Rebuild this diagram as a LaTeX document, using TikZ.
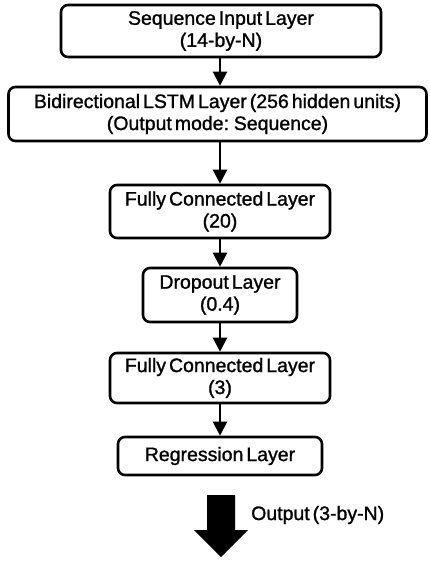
\documentclass[tikz,border=0pt]{standalone}
\usepackage{fontspec}
\setmainfont{Liberation Sans}[WordSpace=0.55,FakeBold=1.2]
\usepackage{tikz}
\usetikzlibrary{arrows.meta,positioning,calc}

\begin{document}
\begin{tikzpicture}[x=1pt,y=-1pt,
    layer/.style={draw, line width=2.6pt, rounded corners=7pt, align=center, inner sep=1pt,
        font=\fontsize{19.5}{22}\selectfont},
    flow/.style={line width=2.2pt, -{Triangle[width=14pt,length=14pt]}}]
    \useasboundingbox (0,0) rectangle (429,561);
    % layers of the network
    \node[layer, minimum width=320pt, minimum height=52pt] (input) at (221,31) {Sequence Input Layer\\(14-by-N)};
    \node[layer, minimum width=418pt, minimum height=54pt] (lstm) at (217.5,114) {Bidirectional LSTM Layer (256 hidden units)\\(Output mode: Sequence)};
    \node[layer, minimum width=220pt, minimum height=53pt] (fc1) at (220,211.5) {Fully Connected Layer\\(20)};
    \node[layer, minimum width=154pt, minimum height=54pt] (drop) at (220,295) {Dropout Layer\\(0.4)};
    \node[layer, minimum width=220pt, minimum height=50pt] (fc2) at (220,378) {Fully Connected Layer\\(3)};
    \node[layer, minimum width=204pt, minimum height=38pt] (reg) at (220,456) {Regression Layer};
    % connections
    \draw[flow] (input.south -| 220,0) -- (lstm.north -| 220,0);
    \draw[flow] (lstm.south -| 220,0) -- (fc1.north);
    \draw[flow] (fc1) -- (drop);
    \draw[flow] (drop) -- (fc2);
    \draw[flow] (fc2) -- (reg);
    % output
    \fill (207,495) -- (235,495) -- (235,530) -- (248,530) -- (221,557) -- (194,530) -- (207,530) -- cycle;
    \node[anchor=west, font=\fontsize{19.5}{22}\selectfont, inner sep=0pt] (out) at (251,515) {Output (3-by-N)};
\end{tikzpicture}
\end{document}
